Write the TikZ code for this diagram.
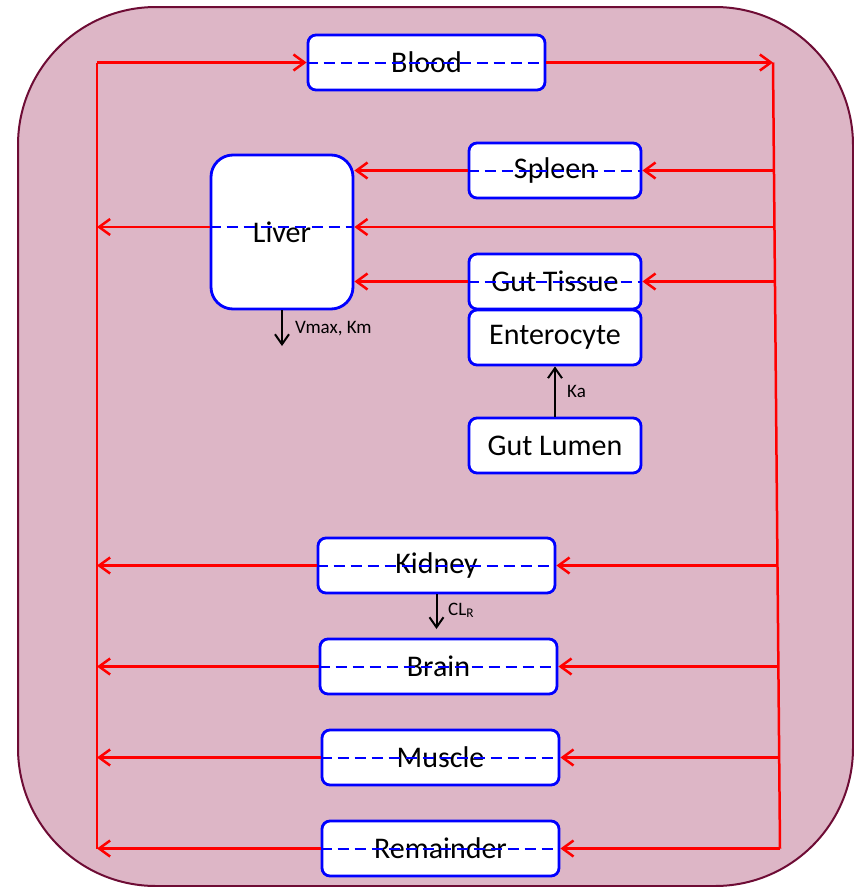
\documentclass[tikz,border=0pt]{standalone}
\usepackage{fontspec}
\setmainfont{Carlito}
\usetikzlibrary{arrows.meta}
\definecolor{bgfill}{RGB}{221,182,198}
\definecolor{bgedge}{RGB}{110,12,53}
\begin{document}
\begin{tikzpicture}[x=1pt,y=-1pt,
  organ/.style={draw=blue, line width=2.8pt, fill=white, rounded corners=8pt,
    minimum width=237pt, minimum height=55pt, inner sep=0pt,
    font=\fontsize{30}{36}\selectfont},
  narrow/.style={organ, minimum width=172pt},
  flow/.style={red, line width=2.5pt, -{Straight Barb[length=11pt,width=16pt]}},
  redline/.style={red, line width=2.5pt},
  midline/.style={blue, line width=2pt, dash pattern=on 11pt off 6pt},
  rate/.style={black, line width=2pt, -{Straight Barb[length=10pt,width=14pt]}},
  ratelabel/.style={font=\fontsize{19}{22}\selectfont, anchor=base west, inner sep=0pt}]

\useasboundingbox (0,0) rectangle (854,887);
\draw[bgedge, fill=bgfill, line width=2pt, rounded corners=138pt] (18,7) rectangle (853,886);

% compartments
\node[organ] (blood) at (426.5,62.5) {Blood};
\node[narrow] (spleen) at (555,170.5) {Spleen};
\node[organ, minimum width=142pt, minimum height=154pt, rounded corners=22pt] (liver) at (282,232) {Liver};
\node[narrow] (guttissue) at (555,281.5) {Gut Tissue};
\node[narrow] (enterocyte) at (555,337.5) {Enterocyte};
\node[narrow] (gutlumen) at (555,445.5) {Gut Lumen};
\node[organ] (kidney) at (436.5,565.5) {Kidney};
\node[organ] (brain) at (438.5,666.5) {Brain};
\node[organ] (muscle) at (440.5,757.5) {Muscle};
\node[organ] (remainder) at (440.5,848.5) {Remainder};

% venous (left) and arterial (right) collecting lines
\coordinate (vtop) at (97,62.5);
\coordinate (vliver) at (97,227);
\coordinate (vkidney) at (97,565.5);
\coordinate (vbrain) at (97,666.5);
\coordinate (vmuscle) at (97,757.5);
\coordinate (vbottom) at (97,848.5);
\coordinate (atop) at (773,62.5);
\coordinate (aspleen) at (774,170.5);
\coordinate (aliver) at (774.5,227);
\coordinate (agut) at (775,281.5);
\coordinate (akidney) at (777.5,565.5);
\coordinate (abrain) at (778.4,666.5);
\coordinate (amuscle) at (779.2,757.5);
\coordinate (abottom) at (780,848.5);

\draw[redline] (vtop) -- (vbottom);
\draw[redline] (atop) -- (abottom);
\draw[flow] (vtop) -- (blood.west);
\draw[flow] (blood.east) -- (atop);

\draw[flow] (aspleen) -- (spleen.east);
\draw[flow] (spleen.west) -- (liver.east |- spleen.west);
\draw[flow] (aliver) -- (liver.east |- aliver);
\draw[flow] (liver.west |- vliver) -- (vliver);
\draw[flow] (agut) -- (guttissue.east);
\draw[flow] (guttissue.west) -- (liver.east |- guttissue.west);

\draw[flow] (akidney) -- (kidney.east);
\draw[flow] (kidney.west) -- (vkidney);
\draw[flow] (abrain) -- (brain.east);
\draw[flow] (brain.west) -- (vbrain);
\draw[flow] (amuscle) -- (muscle.east);
\draw[flow] (muscle.west) -- (vmuscle);
\draw[flow] (abottom) -- (remainder.east);
\draw[flow] (remainder.west) -- (vbottom);

% dashed mid lines through the compartments
\draw[midline] (blood.west) -- (blood.east);
\draw[midline] (spleen.west) -- (spleen.east);
\draw[midline] (liver.west |- vliver) -- (liver.east |- vliver);
\draw[midline] (guttissue.west) -- (guttissue.east);
\draw[midline] (kidney.west) -- (kidney.east);
\draw[midline] (brain.west) -- (brain.east);
\draw[midline] (muscle.west) -- (muscle.east);
\draw[midline] (remainder.west) -- (remainder.east);

% elimination and absorption
\coordinate (vout) at (282,346);
\draw[rate] (liver.south) -- (vout);
\node[ratelabel] (vlabel) at (295,333) {Vmax, Km};

\draw[rate] (gutlumen.north) -- (enterocyte.south);
\node[ratelabel] (kalabel) at (567,397) {Ka};

\coordinate (clout) at (436.5,629);
\draw[rate] (kidney.south) -- (clout);
\node[ratelabel] (cllabel) at (448,615) {CL\textsubscript{R}};
\end{tikzpicture}
\end{document}
